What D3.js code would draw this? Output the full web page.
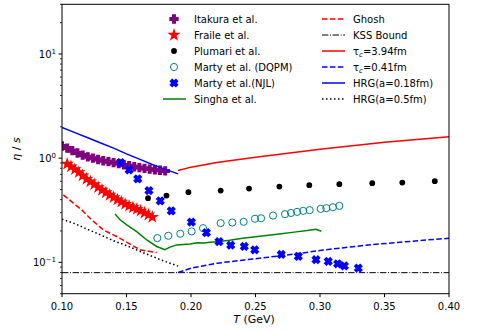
<!DOCTYPE html>
<html><head><meta charset="utf-8">
<script src="https://cdn.jsdelivr.net/npm/d3@7"></script>
<style>body{margin:0;background:#fff}svg{display:block;font-family:"DejaVu Sans",sans-serif}</style>
</head><body><svg id="c" width="498" height="330"></svg>
<script>
// ---- data ----
const itakuraT = [0.100,0.104,0.108,0.112,0.116,0.120,0.124,0.128,0.132,0.136,0.140,0.144,0.148,0.152,0.156,0.160,0.164,0.168,0.172,0.176,0.180];
const itakuraV = [1.31,1.25,1.18,1.12,1.07,1.03,1.00,0.97,0.945,0.925,0.905,0.887,0.862,0.845,0.828,0.812,0.797,0.785,0.775,0.765,0.755];
const fraileT = [0.104,0.107,0.110,0.113,0.116,0.119,0.122,0.125,0.128,0.131,0.134,0.137,0.140,0.143,0.146,0.149,0.152,0.155,0.158,0.161,0.164,0.167,0.170];
const fraileV = [0.88,0.83,0.78,0.73,0.68,0.63,0.595,0.56,0.525,0.495,0.468,0.443,0.42,0.40,0.38,0.362,0.348,0.336,0.324,0.312,0.299,0.286,0.272];
const plumariT = [0.1667,0.181,0.198,0.223,0.245,0.2685,0.2917,0.315,0.3405,0.3638,0.389];
const plumariV = [0.413,0.438,0.472,0.489,0.511,0.534,0.551,0.563,0.576,0.583,0.601];
const dqpmT = [0.1739,0.1824,0.1917,0.2005,0.2093,0.223,0.232,0.2408,0.2496,0.2543,0.2636,0.2729,0.2775,0.2822,0.287,0.292,0.3005,0.3049,0.310,0.315];
const dqpmV = [0.171,0.180,0.188,0.198,0.213,0.238,0.241,0.245,0.262,0.265,0.281,0.290,0.298,0.305,0.312,0.317,0.326,0.331,0.338,0.348];
const njlT = [0.1455,0.152,0.1587,0.1674,0.1762,0.1847,0.2003,0.2119,0.2217,0.2308,0.2413,0.2494,0.270,0.2832,0.2969,0.3064,0.3137,0.3189,0.3297];
const njlV = [0.908,0.772,0.633,0.489,0.389,0.312,0.243,0.193,0.158,0.146,0.142,0.132,0.119,0.114,0.106,0.102,0.0968,0.0925,0.088];
const singhaT = [0.1411,0.145,0.1502,0.1579,0.1657,0.1734,0.1798,0.1837,0.1889,0.1992,0.205,0.210,0.215,0.220,0.230,0.240,0.250,0.260,0.270,0.280,0.290,0.297,0.301];
const singhaV = [0.292,0.256,0.229,0.197,0.164,0.142,0.132,0.140,0.147,0.150,0.154,0.153,0.156,0.158,0.163,0.170,0.176,0.182,0.188,0.195,0.202,0.208,0.199];
const ghoshT = [0.101,0.1088,0.1153,0.123,0.132,0.1424,0.1514,0.1605,0.1734];
const ghoshV = [0.444,0.370,0.319,0.256,0.205,0.177,0.153,0.132,0.124];
const kssT = [0.10,0.40];
const kssV = [0.0796,0.0796];
const tau394T = [0.19,0.20,0.22,0.25,0.30,0.35,0.40];
const tau394V = [0.76,0.82,0.91,1.02,1.22,1.42,1.61];
const tau041T = [0.19,0.20,0.22,0.24,0.26,0.28,0.30,0.32,0.34,0.36,0.38,0.40];
const tau041V = [0.080,0.088,0.098,0.105,0.112,0.120,0.130,0.139,0.148,0.155,0.163,0.170];
const hrg018T = [0.10,0.11,0.12,0.13,0.14,0.15,0.16,0.17,0.18,0.19];
const hrg018V = [1.97,1.76,1.57,1.40,1.25,1.10,0.98,0.87,0.78,0.707];
const hrg05T = [0.10,0.11,0.12,0.13,0.14,0.15,0.16,0.17,0.18,0.19];
const hrg05V = [0.26,0.235,0.207,0.183,0.161,0.145,0.128,0.114,0.102,0.092];
const xTicks = [0.10,0.15,0.20,0.25,0.30,0.35,0.40];
const yMajor = [0.1,1,10];
const yExp = ["\u22121","0","1"];

// ---- chart ----
const svg = d3.select("#c");
const L=62,R=449,T=4.3,B=293.7;
const x = d3.scaleLinear().domain([0.10,0.40]).range([L,R]);
const y = d3.scaleLog().domain([0.05,30]).range([B,T]);
const zip=(a,b)=>a.map((t,i)=>[t,b[i]]);
const line=d3.line().x(d=>x(d[0])).y(d=>y(d[1]));
svg.append("clipPath").attr("id","cp").append("rect").attr("x",L).attr("y",T).attr("width",R-L).attr("height",B-T);
const g = svg.append("g").attr("clip-path","url(#cp)");

function drawLine(tt,vv,color,dash,w){
  g.append("path").datum(zip(tt,vv)).attr("d",line).attr("fill","none")
   .attr("stroke",color).attr("stroke-width",w||1.5).attr("stroke-dasharray",dash||null);
}
const sym = {
  plus: d3.symbol(d3.symbolCross,36),
  star: d3.symbol(d3.symbolStar,55),
  x: d3.symbol(d3.symbolCross,34),
};
function styleMarker(sel,kind,color){
  if(kind==="dot") sel.attr("d",d3.symbol(d3.symbolCircle,26)()).attr("fill",color);
  else if(kind==="circ") sel.attr("d",d3.symbol(d3.symbolCircle,40)()).attr("fill","none").attr("stroke",color).attr("stroke-width",1);
  else if(kind==="star") sel.attr("d",sym.star()).attr("fill",color);
  else sel.attr("d",sym[kind]()).attr("fill",color).attr("stroke",color).attr("stroke-width",1.3).attr("stroke-linejoin","miter");
}
function drawPts(tt,vv,kind,color){
  const sel=g.append("g").selectAll("path").data(zip(tt,vv)).join("path")
   .attr("transform",p=>`translate(${x(p[0])},${y(p[1])})`+(kind==="x"?" rotate(45)":""));
  styleMarker(sel,kind,color);
}
drawLine(kssT,kssV,"#000","6.4,1.6,1,1.6",1);
drawLine(ghoshT,ghoshV,"red","5.5,2.4");
drawLine(hrg05T,hrg05V,"#000","1.5,2.5");
drawLine(tau041T,tau041V,"blue","5.5,2.4");
drawLine(singhaT,singhaV,"green");
drawPts(itakuraT,itakuraV,"plus","purple");
drawPts(fraileT,fraileV,"star","red");
drawPts(plumariT,plumariV,"dot","#000");
drawPts(dqpmT,dqpmV,"circ","#008080");
drawPts(njlT,njlV,"x","blue");
drawLine(tau394T,tau394V,"red");
drawLine(hrg018T,hrg018V,"blue");

// axes frame
svg.append("rect").attr("x",L).attr("y",T).attr("width",R-L).attr("height",B-T).attr("fill","none").attr("stroke","#000").attr("stroke-width",1);
// x ticks
const xa=svg.append("g");
xTicks.forEach(t=>{
  xa.append("line").attr("x1",x(t)).attr("x2",x(t)).attr("y1",B).attr("y2",B+3.5).attr("stroke","#000");
  xa.append("text").attr("x",x(t)).attr("y",B+16.5).attr("text-anchor","middle").attr("font-size",10).text(t.toFixed(2));
});
// y ticks
const ya=svg.append("g");
for(let e=-2;e<=1;e++){for(let m=2;m<=9;m++){const v=m*Math.pow(10,e);if(v<0.05||v>30)continue;
  ya.append("line").attr("x1",L-2).attr("x2",L).attr("y1",y(v)).attr("y2",y(v)).attr("stroke","#000").attr("stroke-width",0.8);}}
yMajor.forEach((v,i)=>{
  ya.append("line").attr("x1",L-3.5).attr("x2",L).attr("y1",y(v)).attr("y2",y(v)).attr("stroke","#000");
  const t=ya.append("text").attr("x",L-6).attr("y",y(v)+3.5).attr("text-anchor","end").attr("font-size",10);
  t.append("tspan").text("10");
  t.append("tspan").attr("dy",-4).attr("font-size",7).text(yExp[i]);
});
// axis labels
svg.append("text").attr("x",254).attr("y",323).attr("text-anchor","middle").attr("font-size",11)
  .html('<tspan font-style="italic">T</tspan> (GeV)');
svg.append("text").attr("transform","translate(20,149) rotate(-90)").attr("text-anchor","middle").attr("font-size",11)
  .html('<tspan font-style="italic">η</tspan> / <tspan font-style="italic">s</tspan>');

// legend
const leg=svg.append("g").attr("font-size",10);
const col1=[["Itakura et al.","plus","purple"],["Fraile et al.","star","red"],["Plumari et al.","dot","#000"],["Marty et al. (DQPM)","circ","#008080"],["Marty et al.(NJL)","x","blue"],["Singha et al.","line","green"]];
const col2=[["Ghosh","red","5.5,2.4",1.5],["KSS Bound","#000","6.4,1.6,1,1.6",1],["τc=3.94fm","red",null,1.5],["τc=0.41fm","blue","5.5,2.4",1.5],["HRG(a=0.18fm)","blue",null,1.5],["HRG(a=0.5fm)","#000","1.5,2.5",1.5]];
col1.forEach((r,i)=>{
  const yy=19+i*16;
  if(r[1]==="line") leg.append("line").attr("x1",163).attr("x2",186).attr("y1",yy).attr("y2",yy).attr("stroke",r[2]).attr("stroke-width",1.5);
  else{
    const p=leg.append("path").attr("transform",`translate(174,${yy})`+(r[1]==="x"?" rotate(45)":""));
    styleMarker(p,r[1],r[2]);
  }
  leg.append("text").attr("x",194).attr("y",yy+3.5).text(r[0]);
});
col2.forEach((r,i)=>{
  const yy=19+i*16;
  leg.append("line").attr("x1",322).attr("x2",345).attr("y1",yy).attr("y2",yy).attr("stroke",r[1]).attr("stroke-width",r[3]).attr("stroke-dasharray",r[2]);
  const t=leg.append("text").attr("x",353).attr("y",yy+3.5);
  if(r[0].startsWith("τc")){
    t.append("tspan").text("τ");
    t.append("tspan").attr("font-style","italic").attr("font-size",7).attr("dy",2.5).text("c");
    t.append("tspan").attr("dy",-2.5).text(r[0].slice(2));
  } else t.text(r[0]);
});
</script></body></html>
